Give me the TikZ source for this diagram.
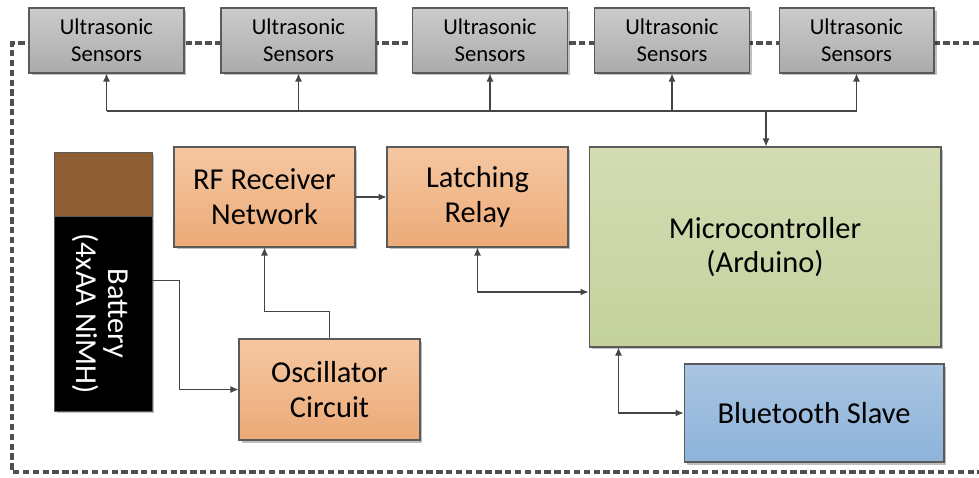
\documentclass[tikz,border=0pt]{standalone}
\usepackage{fontspec}
\setmainfont{Carlito}
\usetikzlibrary{arrows.meta,shadows,calc}
\definecolor{bordergray}{HTML}{5A5A5A}
\definecolor{linegray}{HTML}{454545}
\definecolor{sensTop}{HTML}{CBCBCB}
\definecolor{sensBot}{HTML}{ABABAB}
\definecolor{oraTop}{HTML}{F5C7A2}
\definecolor{oraBot}{HTML}{ECAA77}
\definecolor{grnTop}{HTML}{D3DCB3}
\definecolor{grnBot}{HTML}{C4D29D}
\definecolor{bluTop}{HTML}{A9C5E1}
\definecolor{bluBot}{HTML}{8DB3DA}
\definecolor{brown}{HTML}{8C5E32}
\definecolor{dashgray}{HTML}{505050}
\tikzset{
  box/.style={draw=bordergray, line width=0.6pt, align=center, inner sep=0pt,
    drop shadow={shadow xshift=0.05cm, shadow yshift=-0.05cm, opacity=0.25, fill=black}},
  sensorbox/.style={box, top color=sensTop, bottom color=sensBot,
    minimum width=3.1cm, minimum height=1.3cm,
    font=\fontsize{12.9}{15.3}\selectfont},
  orangebox/.style={box, top color=oraTop, bottom color=oraBot,
    minimum width=3.62cm, minimum height=2.0cm,
    font=\fontsize{17.3}{19.8}\selectfont},
  greenbox/.style={box, top color=grnTop, bottom color=grnBot,
    font=\fontsize{17.3}{19.8}\selectfont},
  bluebox/.style={box, top color=bluTop, bottom color=bluBot,
    font=\fontsize{17.3}{19.8}\selectfont},
  conn/.style={draw=linegray, line width=0.6pt},
  arr/.style={conn, -{Latex[length=1.6mm,width=1.4mm]}},
  arrboth/.style={conn, {Latex[length=1.6mm,width=1.4mm]}-{Latex[length=1.6mm,width=1.4mm]}},
  border/.style={draw=dashgray, line width=1.8pt, dash pattern=on 3.6pt off 2pt}
}
\begin{document}
\begin{tikzpicture}[x=0.02cm, y=-0.02cm]
\useasboundingbox (0,0) rectangle (979,477);
% dashed enclosure
\coordinate (dTR) at (979,43);
\coordinate (dTL) at (12,43);
\coordinate (dBL) at (12,472);
\coordinate (dBR) at (979,472);
\draw[border] (dTR) -- (dTL) -- (dBL) -- (dBR);

% sensors
\node[sensorbox] (s1) at (106.5,40.5) {Ultrasonic\\Sensors};
\node[sensorbox] (s2) at (298.5,40.5) {Ultrasonic\\Sensors};
\node[sensorbox] (s3) at (490,40.5) {Ultrasonic\\Sensors};
\node[sensorbox] (s4) at (672,40.5) {Ultrasonic\\Sensors};
\node[sensorbox] (s5) at (856.5,40.5) {Ultrasonic\\Sensors};

% battery
\node[draw=bordergray, line width=0.4pt, fill=brown, minimum width=1.96cm, minimum height=1.28cm, inner sep=0pt,
  drop shadow={shadow xshift=0.05cm, shadow yshift=-0.05cm, opacity=0.25, fill=black}] (battop) at (103,184) {};
\node[draw=bordergray, line width=0.4pt, fill=black, minimum width=1.96cm, minimum height=3.9cm, inner sep=0pt,
  drop shadow={shadow xshift=0.05cm, shadow yshift=-0.05cm, opacity=0.25, fill=black}] (bat) at (103,313.5) {};
\node[text=white, rotate=-90, align=center, font=\fontsize{17.3}{18.5}\selectfont] (battext) at (100,313.5) {Battery\\(4xAA NiMH)};

% blocks
\node[orangebox] (rf) at (264.5,197) {RF Receiver\\Network};
\node[orangebox] (latch) at (477.5,197) {Latching\\Relay};
\node[orangebox, minimum height=2.02cm] (osc) at (329.5,389.5) {Oscillator\\Circuit};
\node[greenbox, minimum width=7.04cm, minimum height=4.0cm] (mcu) at (765,247) {Microcontroller\\(Arduino)};
\node[bluebox, minimum width=5.2cm, minimum height=1.96cm] (bt) at (814,413) {Bluetooth Slave};

% sensor bus
\coordinate (busL) at (106.5,111);
\coordinate (busR) at (856.5,111);
\coordinate (tap) at (766,111);
\draw[conn] (busL) -- (busR);
\foreach \s in {s1,s2,s3,s4,s5} {
  \draw[arr] (\s.south |- busL) -- (\s.south);
}
\draw[arr] (tap) -- (tap |- mcu.north);

% other connectors
\draw[arr] (rf.east) -- (latch.west);
\draw[arrboth] (latch.south) |- ($(mcu.west)+(0,45)$);
\draw[arrboth] ($(mcu.south west)+(30,0)$) |- (bt.west);
\draw[arr] (osc.north) -- ++(0,-27) -| (rf.south);
\draw[arr] ($(bat.north east)+(0,65)$) -- ++(27,0) |- (osc.west);
\end{tikzpicture}
\end{document}
